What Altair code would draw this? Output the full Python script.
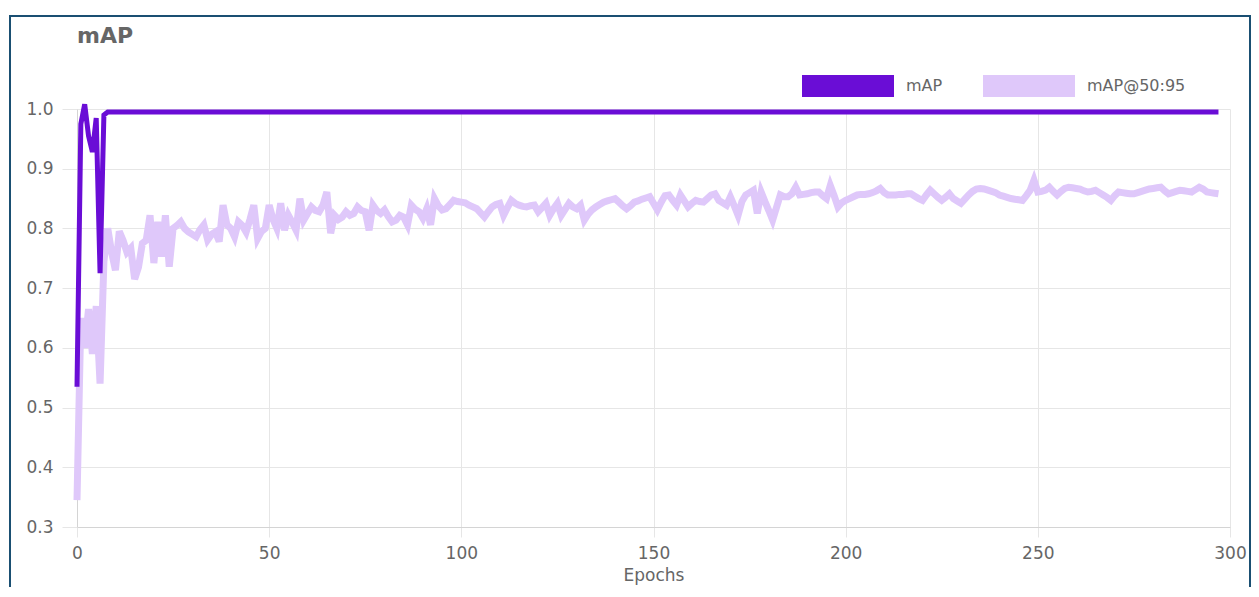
import altair as alt
import pandas as pd

# ---------------- data ----------------
epochs = list(range(298))

map_values = [0.535, 0.975, 1.008, 0.955, 0.928, 0.985, 0.725, 0.990, 0.995] + [0.995] * 289

map5095_values = [
    0.345, 0.650, 0.600, 0.665, 0.590, 0.670, 0.540, 0.745, 0.800, 0.760,
    0.730, 0.795, 0.780, 0.760, 0.767, 0.715, 0.735, 0.775, 0.780, 0.822,
    0.742, 0.811, 0.753, 0.822, 0.736, 0.800, 0.805, 0.811, 0.800, 0.794,
    0.790, 0.786, 0.798, 0.806, 0.781, 0.790, 0.794, 0.778, 0.839, 0.806,
    0.800, 0.786, 0.811, 0.805, 0.794, 0.815, 0.839, 0.783, 0.795, 0.800,
    0.839, 0.815, 0.800, 0.842, 0.797, 0.822, 0.810, 0.797, 0.850, 0.814,
    0.825, 0.836, 0.830, 0.828, 0.839, 0.861, 0.792, 0.822, 0.815, 0.819,
    0.828, 0.822, 0.825, 0.836, 0.830, 0.828, 0.797, 0.839, 0.830, 0.825,
    0.831, 0.820, 0.811, 0.814, 0.822, 0.819, 0.806, 0.839, 0.832, 0.828,
    0.817, 0.833, 0.806, 0.850, 0.838, 0.831, 0.833, 0.840, 0.847, 0.845,
    0.844, 0.843, 0.839, 0.836, 0.833, 0.826, 0.819, 0.828, 0.836, 0.840,
    0.842, 0.822, 0.835, 0.847, 0.842, 0.839, 0.837, 0.836, 0.838, 0.839,
    0.828, 0.835, 0.842, 0.822, 0.833, 0.842, 0.822, 0.832, 0.842, 0.836,
    0.833, 0.839, 0.814, 0.824, 0.831, 0.836, 0.840, 0.844, 0.846, 0.848,
    0.850, 0.844, 0.838, 0.833, 0.838, 0.844, 0.846, 0.849, 0.851, 0.853,
    0.842, 0.831, 0.844, 0.855, 0.856, 0.847, 0.839, 0.856, 0.846, 0.836,
    0.842, 0.847, 0.845, 0.844, 0.850, 0.856, 0.858, 0.847, 0.843, 0.839,
    0.853, 0.838, 0.822, 0.845, 0.856, 0.860, 0.864, 0.825, 0.861, 0.845,
    0.830, 0.814, 0.835, 0.856, 0.853, 0.853, 0.858, 0.869, 0.856, 0.857,
    0.858, 0.860, 0.861, 0.861, 0.855, 0.850, 0.872, 0.855, 0.836, 0.843,
    0.847, 0.850, 0.853, 0.856, 0.857, 0.857, 0.858, 0.860, 0.863, 0.867,
    0.860, 0.856, 0.856, 0.856, 0.857, 0.857, 0.858, 0.858, 0.854, 0.850,
    0.847, 0.856, 0.864, 0.858, 0.852, 0.847, 0.852, 0.858, 0.850, 0.846,
    0.842, 0.849, 0.856, 0.862, 0.866, 0.867, 0.866, 0.864, 0.862, 0.860,
    0.856, 0.854, 0.852, 0.850, 0.849, 0.848, 0.847, 0.855, 0.864, 0.881,
    0.861, 0.862, 0.864, 0.869, 0.862, 0.856, 0.862, 0.867, 0.869, 0.868,
    0.867, 0.866, 0.863, 0.861, 0.862, 0.864, 0.860, 0.856, 0.852, 0.847,
    0.855, 0.861, 0.860, 0.859, 0.858, 0.858, 0.860, 0.862, 0.864, 0.866,
    0.867, 0.868, 0.869, 0.863, 0.858, 0.860, 0.862, 0.864, 0.863, 0.862,
    0.861, 0.865, 0.869, 0.866, 0.861, 0.860, 0.859, 0.858,
]

series_names = ["mAP", "mAP@50:95"]
series_colors = ["#6a0dd6", "#dfc8fa"]
x_ticks = [0, 50, 100, 150, 200, 250, 300]
y_ticks = [0.3, 0.4, 0.5, 0.6, 0.7, 0.8, 0.9, 1.0]

df = pd.DataFrame({
    "epoch": epochs * 2,
    "value": map_values + map5095_values,
    "series": [series_names[0]] * len(epochs) + [series_names[1]] * len(epochs),
})

FONT = "DejaVu Sans"
TXT = "#666666"

color = alt.Color(
    "series:N",
    scale=alt.Scale(domain=series_names, range=series_colors),
    legend=alt.Legend(
        title=None, orient="none", legendX=714, legendY=-80,
        direction="horizontal", symbolType="M-1,0H1", symbolSize=8464,
        symbolStrokeWidth=22, symbolOpacity=1, labelFont=FONT, labelFontSize=16,
        labelColor=TXT, labelOffset=1, columnPadding=-4,
    ),
)

x = alt.X(
    "epoch:Q",
    scale=alt.Scale(domain=[0, 300], nice=False, zero=False),
    axis=alt.Axis(values=x_ticks, format="d", title="Epochs", tickSize=10,
                  labelPadding=8, titlePadding=6, labelFlush=False),
)
y = alt.Y(
    "value:Q",
    scale=alt.Scale(domain=[0.3, 1.0], nice=False, zero=False),
    axis=alt.Axis(values=y_ticks, format=".1f", title=None, tickSize=15,
                  labelPadding=9, labelFlush=False),
)

base = alt.Chart(df).encode(x=x, y=y, color=color)

light = base.transform_filter(alt.datum.series == series_names[1]).mark_line(
    strokeWidth=7, strokeJoin="miter", clip=False)
dark = base.transform_filter(alt.datum.series == series_names[0]).mark_line(
    strokeWidth=5, strokeJoin="miter", clip=False)

frame = alt.Chart(pd.DataFrame({"k": [0]})).mark_rect(
    fillOpacity=0, stroke="#1a4f72", strokeWidth=2
).encode(x=alt.value(-67), x2=alt.value(1173), y=alt.value(-93), y2=alt.value(520))

chart = alt.layer(frame, light, dark).properties(
    width=1153,
    height=418,
    autosize=alt.AutoSizeParams(type="none"),
    padding={"left": 69, "top": 101, "right": 21, "bottom": 60},
    title=alt.TitleParams("mAP", anchor="start", frame="group", font=FONT,
                          fontSize=22, fontWeight="bold", color=TXT, offset=0,
                          dy=33),
).configure(
    background="white",
).configure_view(
    stroke=None,
).configure_axis(
    gridColor="#e6e6e6",
    tickColor="#e6e6e6",
    domainColor="#d4d4d4",
    labelColor=TXT,
    labelFont=FONT,
    labelFontSize=17,
    titleColor=TXT,
    titleFont=FONT,
    titleFontSize=17,
    titleFontWeight="normal",
)

chart.save("out.html", embed_options={"renderer": "svg", "actions": False})
